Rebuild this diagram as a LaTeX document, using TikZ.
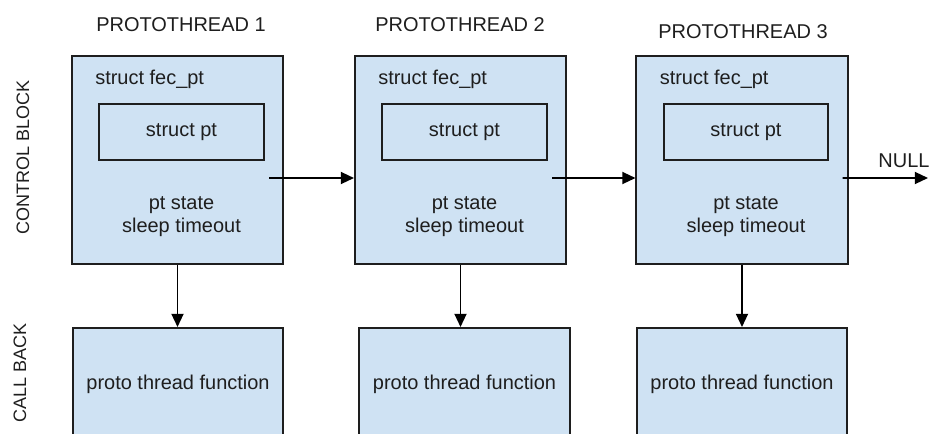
\documentclass[tikz,border=0pt]{standalone}
\usepackage{fontspec}
\setmainfont{Liberation Sans}
\usetikzlibrary{arrows.meta,positioning}
\definecolor{boxblue}{RGB}{207,226,243}
\definecolor{inkgrey}{RGB}{30,30,30}

\begin{document}
\begin{tikzpicture}[x=0.025cm, y=-0.025cm,
    every node/.style={text=inkgrey, font=\fontsize{14.2}{16.5}\selectfont},
    txt/.style={inner sep=0pt},
    cblock/.style={draw=inkgrey, line width=1.4pt, fill=boxblue, minimum width=5.275cm, minimum height=5.2cm},
    ptbox/.style={draw=inkgrey, line width=1.4pt, fill=boxblue, minimum width=4.1cm, minimum height=1.4cm},
    cback/.style={draw=inkgrey, line width=1.4pt, fill=boxblue, minimum width=5.25cm, minimum height=2.8cm},
    side/.style={txt, rotate=90, font=\fontsize{12.8}{15}\selectfont},
    link/.style={-{Triangle[length=0.33cm,width=0.3cm]}, line width=1.3pt, draw=black},
]
\clip (0,0) rectangle (935,434);

% side labels
\node[side] (lcb) at (23,157) {CONTROL BLOCK};
\node[side, anchor=east] (lcf) at (20,323) {CALL BACK};

% protothread columns
\foreach \i/\cx/\fx in {1/177.5/178, 2/460.5/464.5, 3/742/742} {
    \node[cblock] (cb\i) at (\cx,160) {};
    \node[txt, anchor=west] (fec\i) at ([xshift=0.6cm,yshift=-0.6cm]cb\i.north west) {struct fec\_pt};
    \node[ptbox] (pt\i) at ([xshift=0.1cm,yshift=0.7cm]cb\i.center) {struct pt};
    \node[txt, align=center] (st\i) at ([xshift=0.1cm,yshift=-1.41cm]cb\i.center) {pt state\\sleep timeout};
    \node[cback] (cf\i) at (\fx,384) {proto thread function};
    \draw[link] (cb\i.south) -- (cb\i.south |- cf\i.north);
}

% titles
\node[txt] (t1) at (181,25) {PROTOTHREAD 1};
\node[txt] (t2) at (460,25) {PROTOTHREAD 2};
\node[txt] (t3) at (743,32) {PROTOTHREAD 3};

% links between control blocks
\coordinate (o1) at ([xshift=-0.375cm,yshift=-0.45cm]cb1.east);
\coordinate (o2) at ([xshift=-0.375cm,yshift=-0.45cm]cb2.east);
\coordinate (o3) at ([xshift=-0.15cm,yshift=-0.45cm]cb3.east);
\coordinate (nullend) at (928,178);
\draw[link] (o1) -- (o1 -| cb2.west);
\draw[link] (o2) -- (o2 -| cb3.west);
\draw[link] (o3) -- (nullend);
\node[txt] (null) at (904,161) {NULL};
\end{tikzpicture}
\end{document}
